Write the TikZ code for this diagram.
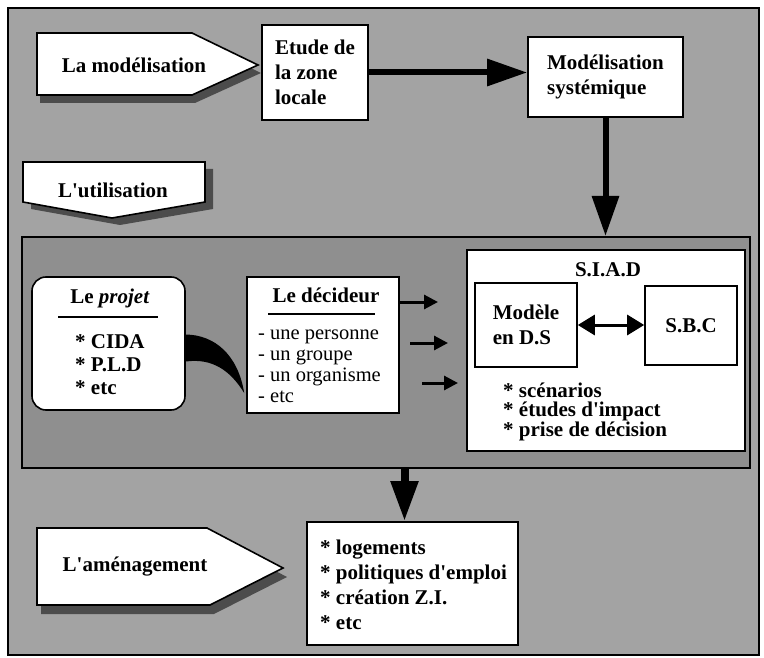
\documentclass[tikz,border=0pt]{standalone}
\usepackage{fontspec}
\setmainfont{Liberation Serif}
\definecolor{DotGray}{gray}{0.64}
\definecolor{DotDark}{gray}{0.56}
\definecolor{ShadowGray}{gray}{0.30}
\usetikzlibrary{arrows.meta, calc}

\begin{document}
\begin{tikzpicture}[x=1pt, y=-1pt]
  \tikzset{
    box/.style={draw, fill=white, line width=1.6pt, inner sep=0pt},
    txt/.style={font=\fontsize{21}{25}\selectfont\bfseries, inner sep=0pt, align=left},
    plain/.style={font=\fontsize{20.5}{21}\selectfont, inner sep=0pt, align=left},
    sign/.style={draw, fill=white, line width=1.6pt, line join=miter},
    signshadow/.style={fill=ShadowGray},
    bigarrow/.style={line width=6pt, -{Triangle[length=40pt, width=26pt]}},
    smallarrow/.style={line width=3pt, -{Triangle[length=14pt, width=14pt]}},
    rule/.style={line width=1.4pt}
  }

  % Frame
  \fill[white] (0,0) rectangle (764,658);
  \useasboundingbox (0,0) rectangle (764,658);
  \draw[fill=DotGray, line width=2.5pt] (8,8) rectangle (759,655);

  % La modelisation
  \fill[signshadow] (40,41) -- (195,41) -- (261,73) -- (195,103) -- (40,103) -- cycle;
  \draw[sign] (37,33) -- (192,33) -- (258,65) -- (192,95) -- (37,95) -- cycle;
  \node[txt] (modlabel) at (134,65) {La modélisation};

  \node[box, minimum width=106, minimum height=95, txt] (etude) at (315,72.5) {Etude de\\la zone\\locale};
  \node[box, minimum width=155, minimum height=80, txt] (modsys) at (605.5,77) {Modélisation\\systémique};

  % L'utilisation
  \fill[signshadow] (31,169) -- (213,169) -- (213,209) -- (120,225) -- (31,209) -- cycle;
  \draw[sign] (23,162) -- (205,162) -- (205,202) -- (112,218) -- (23,202) -- cycle;
  \node[txt] (utillabel) at (113,190) {L\textquotesingle utilisation};

  % Panel
  \node[draw, fill=DotDark, line width=2pt, minimum width=728, minimum height=231, inner sep=0pt] (panel) at (386,352.5) {};

  % Le projet
  \node[box, rounded corners=14pt, minimum width=153, minimum height=133] (projet) at (108.5,343.5) {};
  \node[txt] (projettitle) at (110,298) {Le \textit{projet}};
  \draw[rule] (58,317) -- (158,317);
  \node[txt, font=\fontsize{21}{23}\selectfont\bfseries, anchor=west] (projetitems) at (75,365) {* CIDA\\* P.L.D\\* etc};

  % Le decideur
  \node[box, minimum width=152, minimum height=136] (decideur) at (323,345) {};
  \node[txt] (decideurtitle) at (326,295) {Le décideur};
  \draw[rule] (268,314) -- (375,314);
  \node[plain, anchor=west] (decideuritems) at (258,366) {- une personne\\- un groupe\\- un organisme\\- etc};

  % S.I.A.D
  \node[box, minimum width=278, minimum height=201] (siad) at (606,350.5) {};
  \node[txt] (siadtitle) at (608,270) {S.I.A.D};
  \node[box, minimum width=102, minimum height=84, txt] (modele) at (526,325) {Modèle\\en D.S};
  \node[box, minimum width=92, minimum height=79, txt] (sbc) at (691,325.5) {S.B.C};
  \node[txt, font=\fontsize{21}{19}\selectfont\bfseries, anchor=west] (siaditems) at (503,412) {* scénarios\\* études d\textquotesingle impact\\* prise de décision};

  % L'amenagement
  \fill[signshadow] (41,537) -- (211,537) -- (287,577) -- (214,614) -- (41,614) -- cycle;
  \draw[sign] (37,528) -- (207,528) -- (283,568) -- (210,605) -- (37,605) -- cycle;
  \node[txt] (amenlabel) at (135,567) {L\textquotesingle aménagement};
  \node[box, minimum width=211, minimum height=123] (amen) at (412.5,583.5) {};
  \node[txt, anchor=west] (amenitems) at (320,585) {* logements\\* politiques d\textquotesingle emploi\\* création Z.I.\\* etc};

  % Arrows
  \draw[bigarrow] (etude.east) -- (etude.east -| modsys.west);
  \draw[bigarrow] (modsys.south) -- (modsys.south |- panel.north);
  \draw[line width=8pt, -{Triangle[length=40pt, width=26pt]}] ([xshift=-8pt]amen.north |- panel.south) -- ([xshift=-8pt]amen.north);
  \draw[line width=3pt, {Triangle[length=17pt, width=20pt]}-{Triangle[length=17pt, width=20pt]}] (modele.east) -- (modele.east -| sbc.west);

  \coordinate (a1) at (438,302);
  \coordinate (a2s) at (410,343);
  \coordinate (a2) at (448,343);
  \coordinate (a3s) at (422,383);
  \coordinate (a3) at (458,383);
  \draw[smallarrow] ([yshift=43pt]decideur.east) -- (a1);
  \draw[smallarrow] (a2s) -- (a2);
  \draw[smallarrow] (a3s) -- (a3);

  % Projet to decideur
  \fill ($(projet.east)+(0,-9)$) .. controls (215,335) and (238,355) .. ($(decideur.west)+(-2,48)$)
        .. controls (230,370) and (212,358) .. ($(projet.east)+(0,18)$) -- cycle;
\end{tikzpicture}
\end{document}
